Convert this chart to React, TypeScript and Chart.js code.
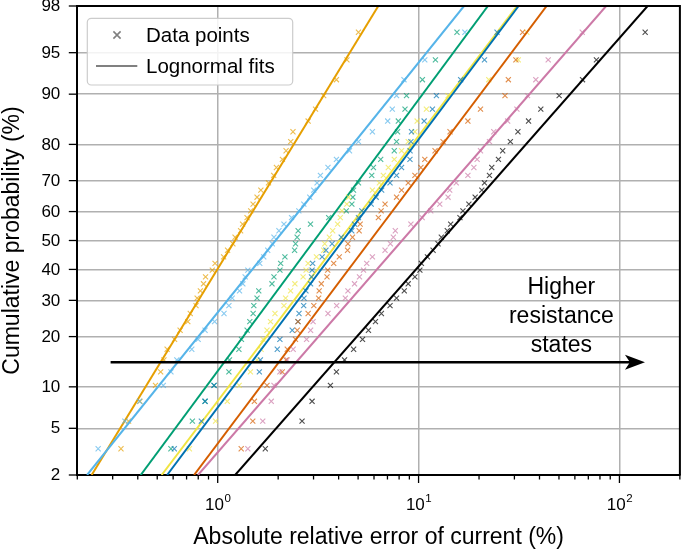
import React, { useEffect, useRef } from "react";
import { Chart, registerables } from "chart.js";

Chart.register(...registerables);

// ---- data ----
const Y_TICKS = [2, 5, 10, 20, 30, 40, 50, 60, 70, 80, 90, 95, 98];
const X_MAJOR = [1, 10, 100];
const X_MINOR = [0.2, 0.3, 0.4, 0.5, 0.6, 0.7, 0.8, 0.9, 2, 3, 4, 5, 6, 7, 8, 9, 20, 30, 40, 50, 60, 70, 80, 90, 200];
const X_MIN = 0.2;
const X_MAX = 200;
const P_MIN = 2;
const P_MAX = 98;

const COLORS = ["#E69F00", "#56B4E9", "#009E73", "#F0E442", "#0072B2", "#D55E00", "#CC79A7", "#000000"];

// absolute relative error (%) per resistance state (44 devices each)
const STATE_1 = [0.27, 0.33, 0.36, 0.41, 0.49, 0.52, 0.54, 0.56, 0.61, 0.65, 0.71, 0.73, 0.78, 0.79, 0.82, 0.85, 0.87, 0.94, 0.97, 1.07, 1.12, 1.19, 1.22, 1.30, 1.33, 1.40, 1.46, 1.50, 1.57, 1.64, 1.79, 1.90, 1.96, 2.10, 2.19, 2.31, 2.37, 2.82, 3.07, 3.37, 3.90, 4.40, 5.02, 6.5];
const STATE_2 = [0.2, 0.254, 0.345, 0.408, 0.536, 0.585, 0.626, 0.743, 0.799, 0.865, 0.965, 1.075, 1.137, 1.181, 1.284, 1.334, 1.370, 1.413, 1.620, 1.695, 1.774, 1.870, 1.906, 2.018, 2.137, 2.332, 2.535, 2.684, 2.873, 3.008, 3.123, 3.246, 3.54, 3.90, 4.53, 5.02, 5.89, 7.02, 7.40, 7.77, 8.46, 10.74, 17.01, 22];
const STATE_3 = [0.45, 0.585, 0.748, 0.865, 0.959, 1.137, 1.145, 1.275, 1.313, 1.401, 1.445, 1.501, 1.513, 1.570, 1.601, 1.863, 1.906, 2.041, 2.058, 2.161, 2.414, 2.441, 2.486, 2.515, 2.897, 3.568, 4.367, 4.654, 4.707, 4.745, 5.023, 5.846, 5.960, 6.478, 7.57, 7.77, 7.86, 7.93, 8.56, 8.71, 10.45, 12.13, 15.53, 20];
const STATE_4 = [0.6, 0.723, 0.976, 1.116, 1.279, 1.455, 1.570, 1.644, 1.682, 1.760, 1.832, 1.928, 2.137, 2.178, 2.306, 2.423, 2.662, 2.755, 2.818, 3.101, 3.371, 3.410, 3.597, 3.736, 3.954, 4.078, 4.153, 4.396, 4.482, 5.89, 6.38, 6.68, 7.07, 7.57, 8.23, 8.88, 9.59, 9.84, 10.94, 14.02, 22.36, 31.37, 34.6, 40];
const STATE_5 = [0.5, 0.608, 0.829, 0.865, 0.959, 1.612, 1.631, 1.980, 2.04, 2.35, 2.51, 2.54, 2.68, 2.69, 2.75, 2.90, 2.93, 2.95, 2.97, 3.31, 3.46, 3.71, 4.12, 4.65, 4.80, 5.02, 5.22, 5.81, 6.15, 6.55, 7.21, 7.77, 8.23, 9.06, 9.07, 9.16, 9.22, 10.66, 11.72, 12.27, 16.20, 21.29, 24.58, 30];
const STATE_6 = [1.0, 1.309, 1.495, 1.523, 1.760, 2.096, 2.19, 2.22, 2.44, 2.49, 2.51, 2.82, 3.01, 3.18, 3.20, 3.28, 3.50, 3.53, 3.78, 4.03, 4.43, 4.45, 4.69, 5.06, 5.12, 6.31, 6.51, 6.81, 7.77, 8.23, 8.88, 9.59, 10.27, 10.74, 12.08, 13.24, 14.34, 17.60, 20.34, 26.93, 27.99, 30.52, 32.95, 40];
const STATE_7 = [1.1, 1.413, 1.676, 1.848, 1.906, 2.04, 2.22, 2.375, 2.77, 2.90, 2.985, 3.54, 3.91, 4.32, 4.45, 4.80, 5.08, 5.32, 5.52, 5.89, 6.81, 7.24, 7.49, 7.66, 9.16, 10.42, 11.50, 12.75, 14.02, 14.29, 15.40, 17.60, 18.85, 19.57, 20.34, 22.54, 23.68, 27.77, 30.87, 34.87, 38.35, 44.2, 65.3, 90];
const STATE_8 = [1.2, 1.726, 2.63, 2.95, 3.64, 3.90, 4.28, 4.75, 5.26, 5.63, 6.10, 6.53, 7.21, 7.77, 8.49, 8.88, 9.59, 10.15, 10.33, 11.07, 11.81, 12.50, 12.98, 13.90, 14.45, 16.07, 16.63, 17.80, 19.13, 20.65, 21.29, 22.54, 23.14, 24.98, 26.23, 28.64, 31.23, 35.28, 40.6, 50.1, 65.5, 76.8, 134.3, 160];
const STATES = [STATE_1, STATE_2, STATE_3, STATE_4, STATE_5, STATE_6, STATE_7, STATE_8];

// lognormal fit parameters (median in %, sigma of ln)
const FIT_MEDIAN = [1.219, 1.941, 3.027, 4.033, 4.198, 5.754, 8.279, 12.99];
const FIT_SIGMA = [0.800, 1.052, 0.969, 0.992, 0.981, 0.984, 1.139, 1.151];

// arrow annotation (data units)
const ARROW_X_FROM = 0.293;
const ARROW_X_TO = 134;
const ARROW_P = 14.3;
const ARROW_TEXT_X = 51.4;
const ARROW_TEXT = ["Higher", "resistance", "states"];

const FONT = '"Liberation Sans", Arial, Helvetica, sans-serif';

function probit(p: number): number {
  const a = [-3.969683028665376e1, 2.209460984245205e2, -2.759285104469687e2, 1.38357751867269e2, -3.066479806614716e1, 2.506628277459239];
  const b = [-5.447609879822406e1, 1.615858368580409e2, -1.556989798598866e2, 6.680131188771972e1, -1.328068155288572e1];
  const c = [-7.784894002430293e-3, -3.223964580411365e-1, -2.400758277161838, -2.549732539343734, 4.374664141464968, 2.938163982698783];
  const d = [7.784695709041462e-3, 3.224671290700398e-1, 2.445134137142996, 3.754408661907416];
  const pl = 0.02425;
  if (p < pl) {
    const q = Math.sqrt(-2 * Math.log(p));
    return (((((c[0] * q + c[1]) * q + c[2]) * q + c[3]) * q + c[4]) * q + c[5]) / ((((d[0] * q + d[1]) * q + d[2]) * q + d[3]) * q + 1);
  }
  if (p <= 1 - pl) {
    const q = p - 0.5;
    const r = q * q;
    return ((((((a[0] * r + a[1]) * r + a[2]) * r + a[3]) * r + a[4]) * r + a[5]) * q) / (((((b[0] * r + b[1]) * r + b[2]) * r + b[3]) * r + b[4]) * r + 1);
  }
  const q = Math.sqrt(-2 * Math.log(1 - p));
  return -(((((c[0] * q + c[1]) * q + c[2]) * q + c[3]) * q + c[4]) * q + c[5]) / ((((d[0] * q + d[1]) * q + d[2]) * q + d[3]) * q + 1);
}

function hexA(hex: string, a: number) {
  const r = parseInt(hex.slice(1, 3), 16);
  const g = parseInt(hex.slice(3, 5), 16);
  const b = parseInt(hex.slice(5, 7), 16);
  return `rgba(${r},${g},${b},${a})`;
}

const Z_MIN = probit(P_MIN / 100);
const Z_MAX = probit(P_MAX / 100);

const decorPlugin = {
  id: "decor",
  afterDraw(chart: any) {
    const ctx = chart.ctx as CanvasRenderingContext2D;
    const area = chart.chartArea;
    const xs = chart.scales.x;
    const ys = chart.scales.y;
    ctx.save();

    // top / right spines
    ctx.strokeStyle = "#000";
    ctx.lineWidth = 2;
    ctx.beginPath();
    ctx.moveTo(area.left - 1, area.top);
    ctx.lineTo(area.right, area.top);
    ctx.lineTo(area.right, area.bottom);
    ctx.stroke();

    // x tick marks
    ctx.lineWidth = 1.3;
    const drawXTick = (v: number, len: number) => {
      const px = xs.getPixelForValue(v);
      ctx.beginPath();
      ctx.moveTo(px, area.bottom);
      ctx.lineTo(px, area.bottom + len);
      ctx.stroke();
    };
    X_MINOR.forEach((v) => drawXTick(v, 4.5));
    X_MAJOR.forEach((v) => drawXTick(v, 8));

    // y tick marks + labels
    ctx.fillStyle = "#000";
    ctx.font = `17px ${FONT}`;
    ctx.textAlign = "right";
    ctx.textBaseline = "middle";
    Y_TICKS.forEach((p) => {
      const py = ys.getPixelForValue(probit(p / 100));
      ctx.beginPath();
      ctx.moveTo(area.left - 8.5, py);
      ctx.lineTo(area.left, py);
      ctx.stroke();
      ctx.fillText(String(p), area.left - 17, py + 0.5);
    });

    // x tick labels 10^n
    ctx.textBaseline = "alphabetic";
    X_MAJOR.forEach((v) => {
      const px = xs.getPixelForValue(v);
      const exp = String(Math.round(Math.log10(v)));
      ctx.font = `17px ${FONT}`;
      const wBase = ctx.measureText("10").width;
      ctx.font = `11.5px ${FONT}`;
      const wExp = ctx.measureText(exp).width;
      const start = px - (wBase + wExp) / 2;
      ctx.textAlign = "left";
      ctx.font = `17px ${FONT}`;
      ctx.fillText("10", start, area.bottom + 34.5);
      ctx.font = `11.5px ${FONT}`;
      ctx.fillText(exp, start + wBase + 0.5, area.bottom + 26.5);
    });

    // axis titles
    ctx.font = `23px ${FONT}`;
    ctx.textAlign = "center";
    ctx.fillText("Absolute relative error of current (%)", (area.left + area.right) / 2, 544);
    ctx.save();
    ctx.translate(18.5, (area.top + area.bottom) / 2);
    ctx.rotate(-Math.PI / 2);
    ctx.fillText("Cumulative probability (%)", 0, 0);
    ctx.restore();

    // arrow
    const ay = ys.getPixelForValue(probit(ARROW_P / 100));
    const ax0 = xs.getPixelForValue(ARROW_X_FROM);
    const ax1 = xs.getPixelForValue(ARROW_X_TO);
    ctx.strokeStyle = "#000";
    ctx.lineWidth = 2.6;
    ctx.beginPath();
    ctx.moveTo(ax0, ay);
    ctx.lineTo(ax1 - 14, ay);
    ctx.stroke();
    ctx.beginPath();
    ctx.moveTo(ax1, ay);
    ctx.lineTo(ax1 - 20, ay - 7.5);
    ctx.lineTo(ax1 - 15, ay);
    ctx.lineTo(ax1 - 20, ay + 7.5);
    ctx.closePath();
    ctx.fillStyle = "#000";
    ctx.fill();

    // arrow text
    const tx = xs.getPixelForValue(ARROW_TEXT_X);
    ctx.font = `23px ${FONT}`;
    ctx.textAlign = "center";
    ctx.textBaseline = "alphabetic";
    ARROW_TEXT.forEach((t, i) => {
      ctx.fillText(t, tx, ay - 68.3 + i * 28.8);
    });

    // legend
    const lx = area.left + 10;
    const ly = area.top + 12.3;
    const lw = 205.4;
    const lh = 66.7;
    ctx.beginPath();
    (ctx as any).roundRect(lx, ly, lw, lh, 4);
    ctx.fillStyle = "rgba(255,255,255,0.85)";
    ctx.fill();
    ctx.strokeStyle = "#cccccc";
    ctx.lineWidth = 1.2;
    ctx.stroke();

    // marker entry
    ctx.strokeStyle = "#808080";
    ctx.lineWidth = 1.6;
    const mx = lx + 29.7;
    const my = ly + 16.7;
    ctx.beginPath();
    ctx.moveTo(mx - 3.6, my - 3.6);
    ctx.lineTo(mx + 3.6, my + 3.6);
    ctx.moveTo(mx - 3.6, my + 3.6);
    ctx.lineTo(mx + 3.6, my - 3.6);
    ctx.stroke();
    // line entry
    ctx.lineWidth = 2;
    ctx.beginPath();
    ctx.moveTo(lx + 8.7, ly + 47.7);
    ctx.lineTo(lx + 50, ly + 47.7);
    ctx.stroke();

    ctx.fillStyle = "#000";
    ctx.font = `20.5px ${FONT}`;
    ctx.textAlign = "left";
    ctx.fillText("Data points", lx + 58.7, ly + 24);
    ctx.fillText("Lognormal fits", lx + 58.7, ly + 55);

    ctx.restore();
  },
};

export default function App() {
  const ref = useRef<HTMLCanvasElement | null>(null);

  useEffect(() => {
    if (!ref.current) return;
    const datasets: any[] = [];
    STATES.forEach((vals, s) => {
      const sorted = [...vals].sort((a, b) => a - b);
      const n = sorted.length;
      datasets.push({
        type: "scatter",
        data: sorted.map((v, i) => ({ x: v, y: probit((i + 0.5) / n) })),
        showLine: false,
        pointStyle: "crossRot",
        pointRadius: 3.6,
        pointBorderWidth: 1.1,
        pointBorderColor: hexA(COLORS[s], 0.7),
        borderColor: hexA(COLORS[s], 0.7),
        backgroundColor: "rgba(0,0,0,0)",
        order: 10 - s,
      });
      const med = FIT_MEDIAN[s];
      const sig = FIT_SIGMA[s];
      datasets.push({
        type: "scatter",
        data: [
          { x: med * Math.exp(sig * Z_MIN), y: Z_MIN },
          { x: med * Math.exp(sig * Z_MAX), y: Z_MAX },
        ],
        showLine: true,
        pointRadius: 0,
        borderColor: COLORS[s],
        borderWidth: 2,
        backgroundColor: "rgba(0,0,0,0)",
        order: 10 - s,
      });
    });

    const chart = new Chart(ref.current, {
      type: "scatter",
      data: { datasets },
      options: {
        animation: false,
        responsive: false,
        devicePixelRatio: 1,
        layout: { padding: { left: 0, right: 1.8, top: 6, bottom: 0 } },
        plugins: { legend: { display: false }, tooltip: { enabled: false } },
        scales: {
          x: {
            type: "logarithmic",
            position: "bottom",
            min: X_MIN,
            max: X_MAX,
            ticks: { display: false, autoSkip: false },
            grid: {
              drawTicks: false,
              lineWidth: 1.5,
              color: (c: any) => (c.tick && X_MAJOR.includes(c.tick.value) ? "#b0b0b0" : "rgba(0,0,0,0)"),
            },
            border: { display: true, color: "#000", width: 2 },
            afterBuildTicks: (scale: any) => {
              scale.ticks = [...X_MINOR, ...X_MAJOR].sort((a, b) => a - b).map((v) => ({ value: v }));
            },
            afterFit: (scale: any) => {
              scale.height = 74;
            },
          },
          y: {
            type: "linear",
            min: Z_MIN,
            max: Z_MAX,
            ticks: { display: false, autoSkip: false },
            grid: { drawTicks: false, lineWidth: 1.5, color: "#b0b0b0" },
            border: { display: true, color: "#000", width: 2 },
            afterBuildTicks: (scale: any) => {
              scale.ticks = Y_TICKS.map((p) => ({ value: probit(p / 100) }));
            },
            afterFit: (scale: any) => {
              scale.width = 77.3;
            },
          },
        },
      } as any,
      plugins: [decorPlugin],
    });
    return () => chart.destroy();
  }, []);

  return (
    <div style={{ position: "absolute", left: 0, top: 0, width: 685, height: 549, overflow: "hidden", background: "#fff" }}>
      <canvas ref={ref} width={685} height={549} style={{ display: "block" }} />
    </div>
  );
}
